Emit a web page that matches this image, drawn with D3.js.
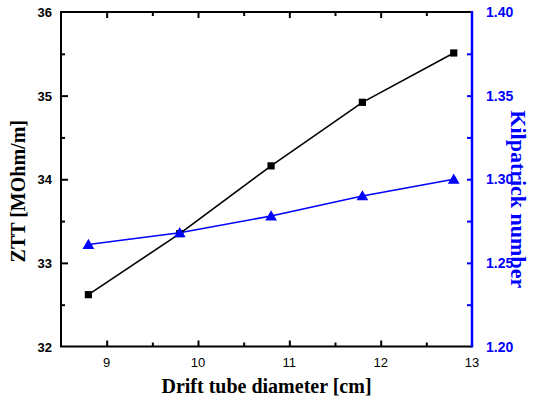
<!DOCTYPE html>
<html lang="en">
<head>
<meta charset="UTF-8">
<title>ZTT and Kilpatrick number vs drift tube diameter</title>
<script src="https://d3js.org/d3.v7.min.js"></script>
<style>
    body { margin: 0; background: #fff; }
    svg { display: block; }
</style>
</head>
<body>
<svg id="chart" width="535" height="405"></svg>
<script>
    // Data
    const diameters = [8.8, 9.8, 10.8, 11.8, 12.8];
    const zttValues = [32.62, 33.35, 34.16, 34.92, 35.51];
    const kilpatrickValues = [1.261, 1.268, 1.278, 1.290, 1.300];
    const xTicks = [9, 10, 11, 12, 13];
    const zttTicks = [32, 33, 34, 35, 36];
    const kilTicks = [1.20, 1.25, 1.30, 1.35, 1.40];

    const svg = d3.select('#chart');
    const pLeft = 61, pRight = 472, pTop = 12, pBottom = 346.5;
    const blue = '#0000ff';

    const x = d3.scaleLinear().domain([8.5, 13]).range([pLeft, pRight]);
    const yL = d3.scaleLinear().domain([32, 36]).range([pBottom, pTop]);
    const yR = d3.scaleLinear().domain([1.20, 1.40]).range([pBottom, pTop]);

    // bottom axis, ticks pointing in
    const xAxis = svg.append('g')
        .attr('transform', `translate(0,${pBottom})`)
        .call(d3.axisBottom(x).tickValues(d3.range(9, 12.51, 0.5))
            .tickSize(0).tickFormat(''));
    xAxis.select('.domain').remove();
    xAxis.selectAll('.tick line')
        .attr('y2', d => Number.isInteger(d) ? -6 : -4)
        .attr('stroke', '#000').attr('stroke-width', 2);

    svg.append('g').selectAll('text')
        .data(xTicks).join('text')
        .attr('x', d => x(d)).attr('y', pBottom + 20)
        .attr('text-anchor', 'middle')
        .attr('font-family', 'Liberation Sans, Arial, sans-serif')
        .attr('font-size', 13)
        .text(d => d);

    // top axis ticks
    const topAxis = svg.append('g')
        .attr('transform', `translate(0,${pTop})`)
        .call(d3.axisTop(x).tickValues(d3.range(9, 12.51, 0.5)).tickSize(0).tickFormat(''));
    topAxis.select('.domain').remove();
    topAxis.selectAll('.tick line')
        .attr('y2', d => Number.isInteger(d) ? 6 : 4)
        .attr('stroke', '#000').attr('stroke-width', 2);

    // left axis
    const leftAxis = svg.append('g')
        .attr('transform', `translate(${pLeft},0)`)
        .call(d3.axisLeft(yL).tickValues(d3.range(32.5, 36, 0.5)).tickSize(0).tickFormat(''));
    leftAxis.select('.domain').remove();
    leftAxis.selectAll('.tick line')
        .attr('x2', d => Number.isInteger(d) ? 7 : 4)
        .attr('stroke', '#000').attr('stroke-width', 2);

    svg.append('g').selectAll('text')
        .data(zttTicks).join('text')
        .attr('x', pLeft - 9).attr('y', d => yL(d) + 5)
        .attr('text-anchor', 'end')
        .attr('font-family', 'Liberation Sans, Arial, sans-serif')
        .attr('font-weight', 'bold')
        .attr('font-size', 13)
        .text(d => d);

    // right axis (blue)
    const rightAxis = svg.append('g')
        .attr('transform', `translate(${pRight},0)`)
        .call(d3.axisRight(yR).tickValues(d3.range(1.225, 1.39, 0.025)).tickSize(0).tickFormat(''));
    rightAxis.select('.domain').remove();
    rightAxis.selectAll('.tick line')
        .attr('x2', -5)
        .attr('stroke', blue).attr('stroke-width', 2);

    svg.append('g').selectAll('text')
        .data(kilTicks).join('text')
        .attr('x', pRight + 14).attr('y', d => yR(d) + 5)
        .attr('text-anchor', 'start')
        .attr('font-family', 'Liberation Sans, Arial, sans-serif')
        .attr('font-weight', 'bold')
        .attr('font-size', 14)
        .attr('fill', blue)
        .text(d => d.toFixed(2));

    // frame
    svg.append('path')
        .attr('d', `M${pRight},${pTop}H${pLeft}V${pBottom}H${pRight}`)
        .attr('fill', 'none').attr('stroke', '#000').attr('stroke-width', 2);
    svg.append('line')
        .attr('x1', pRight).attr('x2', pRight).attr('y1', pTop - 1).attr('y2', pBottom + 1)
        .attr('stroke', blue).attr('stroke-width', 2.5);

    // series
    const zttPts = diameters.map((d, i) => [x(d), yL(zttValues[i])]);
    const kilPts = diameters.map((d, i) => [x(d), yR(kilpatrickValues[i])]);

    svg.append('path')
        .attr('d', d3.line()(zttPts))
        .attr('fill', 'none').attr('stroke', '#000').attr('stroke-width', 1.6);
    svg.append('path')
        .attr('d', d3.line()(kilPts))
        .attr('fill', 'none').attr('stroke', blue).attr('stroke-width', 1.6);

    svg.append('g').selectAll('path')
        .data(zttPts).join('path')
        .attr('transform', d => `translate(${d[0]},${d[1]})`)
        .attr('d', d3.symbol(d3.symbolSquare, 52))
        .attr('fill', '#000');

    svg.append('g').selectAll('path')
        .data(kilPts).join('path')
        .attr('transform', d => `translate(${d[0]},${d[1] + 1})`)
        .attr('d', d3.symbol(d3.symbolTriangle, 60))
        .attr('fill', blue);

    // titles
    svg.append('text')
        .attr('x', (pLeft + pRight) / 2).attr('y', 393)
        .attr('text-anchor', 'middle')
        .attr('font-family', 'Liberation Serif, Times New Roman, serif')
        .attr('font-weight', 'bold')
        .attr('font-size', 20)
        .text('Drift tube diameter [cm]');

    svg.append('text')
        .attr('transform', `translate(25,${(pTop + pBottom) / 2 + 12}) rotate(-90)`)
        .attr('text-anchor', 'middle')
        .attr('font-family', 'Liberation Serif, Times New Roman, serif')
        .attr('font-weight', 'bold')
        .attr('font-size', 20)
        .text('ZTT [MOhm/m]');

    svg.append('text')
        .attr('transform', `translate(511,${(pTop + pBottom) / 2 + 20}) rotate(90)`)
        .attr('text-anchor', 'middle')
        .attr('font-family', 'Liberation Serif, Times New Roman, serif')
        .attr('font-weight', 'bold')
        .attr('font-size', 22)
        .attr('fill', blue)
        .text('Kilpatrick number');
</script>
</body>
</html>
